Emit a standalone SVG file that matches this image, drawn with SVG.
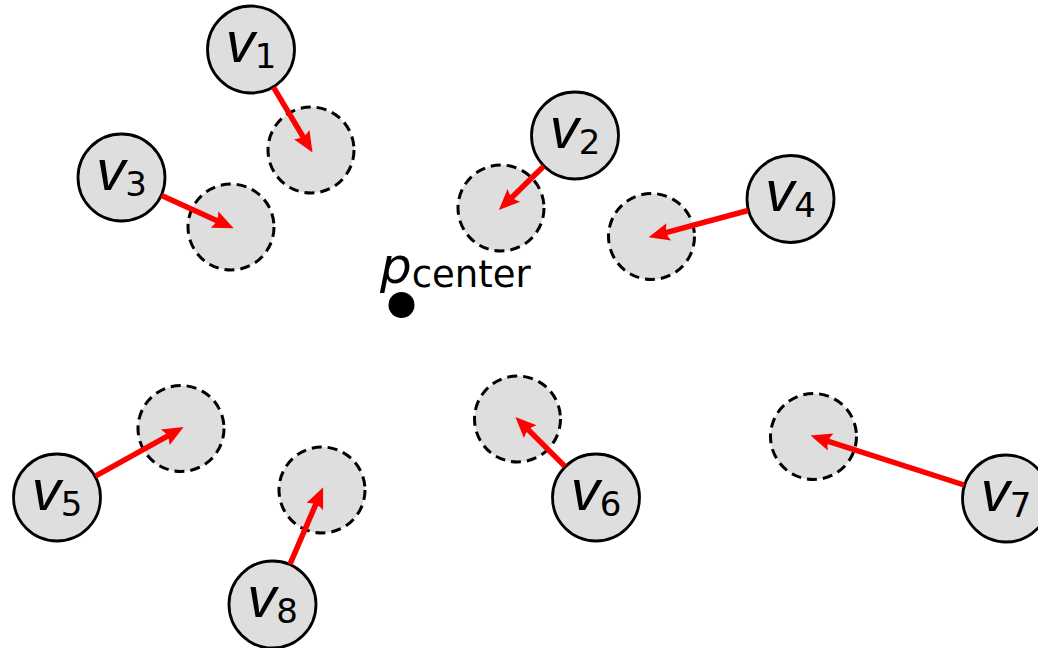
<svg xmlns="http://www.w3.org/2000/svg" width="1038" height="648" viewBox="0 0 1038 648">
  <style>
    .node { fill: #dedede; stroke: #000; stroke-width: 2.8; }
    .ghost { fill: #dedede; stroke: #000; stroke-width: 3; stroke-dasharray: 10 6; }
    .lbl { font-family: "DejaVu Sans", "Liberation Sans", sans-serif; fill: #000; text-anchor: middle; }
    .var { font-family: "Liberation Sans", "DejaVu Sans", sans-serif; font-size: 58px; font-style: italic; }
    .sub { font-size: 34px; }
    .move { stroke: #ff0000; stroke-width: 5.5; fill: none; marker-end: url(#head); }
  </style>
  <defs>
    <marker id="head" markerUnits="userSpaceOnUse" orient="auto" refX="0" refY="0" markerWidth="40" markerHeight="40" overflow="visible">
      <path d="M17,0 L-4,-9 Q1,0 -4,9 Z" fill="#ff0000"/>
    </marker>
  </defs>

  <rect width="1038" height="648" fill="#fff"/>

  <!-- target positions (dashed) -->
  <g id="targets">
    <circle class="ghost" cx="311" cy="150" r="43"/>
    <circle class="ghost" cx="231" cy="227" r="43"/>
    <circle class="ghost" cx="501" cy="208" r="43"/>
    <circle class="ghost" cx="651.5" cy="236.5" r="43"/>
    <circle class="ghost" cx="181" cy="428.5" r="43"/>
    <circle class="ghost" cx="322" cy="490" r="43"/>
    <circle class="ghost" cx="517.5" cy="419" r="43"/>
    <circle class="ghost" cx="813.5" cy="436.5" r="43"/>
  </g>

  <!-- centre point -->
  <g id="pcenter">
    <circle cx="401.5" cy="305" r="13" fill="#000"/>
    <text class="lbl" x="380" y="283" style="text-anchor: start"><tspan font-family="DejaVu Sans, sans-serif" font-style="italic" font-size="50">p</tspan><tspan font-size="37" dy="4">center</tspan></text>
  </g>

  <g id="v1"><circle class="node" cx="251" cy="49.5" r="43.5"/><text class="lbl" x="251" y="61.5"><tspan class="var">v</tspan><tspan class="sub" dy="6">1</tspan></text></g>
  <g id="v2"><circle class="node" cx="575" cy="135.5" r="43.5"/><text class="lbl" x="575" y="147.5"><tspan class="var">v</tspan><tspan class="sub" dy="6">2</tspan></text></g>
  <g id="v3"><circle class="node" cx="121.5" cy="177.5" r="43.5"/><text class="lbl" x="121.5" y="189.5"><tspan class="var">v</tspan><tspan class="sub" dy="6">3</tspan></text></g>
  <g id="v4"><circle class="node" cx="790.5" cy="199" r="43.5"/><text class="lbl" x="790.5" y="211"><tspan class="var">v</tspan><tspan class="sub" dy="6">4</tspan></text></g>
  <g id="v5"><circle class="node" cx="57" cy="497.5" r="43.5"/><text class="lbl" x="57" y="509.5"><tspan class="var">v</tspan><tspan class="sub" dy="6">5</tspan></text></g>
  <g id="v6"><circle class="node" cx="596" cy="497.5" r="43.5"/><text class="lbl" x="596" y="509.5"><tspan class="var">v</tspan><tspan class="sub" dy="6">6</tspan></text></g>
  <g id="v7"><circle class="node" cx="1006" cy="498.5" r="43.5"/><text class="lbl" x="1006" y="510.5"><tspan class="var">v</tspan><tspan class="sub" dy="6">7</tspan></text></g>
  <g id="v8"><circle class="node" cx="272.5" cy="604.5" r="43.5"/><text class="lbl" x="272.5" y="616.5"><tspan class="var">v</tspan><tspan class="sub" dy="6">8</tspan></text></g>

  <!-- displacement arrows -->
  <g id="connectors">
    <line class="move" x1="273.6" y1="87.3" x2="303.8" y2="138.0"/>
    <line class="move" x1="543.6" y1="166.3" x2="511.0" y2="198.2"/>
    <line class="move" x1="161.6" y1="195.6" x2="218.2" y2="221.2"/>
    <line class="move" x1="748.0" y1="210.5" x2="665.0" y2="232.9"/>
    <line class="move" x1="95.4" y1="476.1" x2="168.8" y2="435.3"/>
    <line class="move" x1="564.9" y1="466.4" x2="527.4" y2="428.9"/>
    <line class="move" x1="964.1" y1="485.0" x2="826.8" y2="440.8"/>
    <line class="move" x1="290.0" y1="564.1" x2="316.4" y2="502.9"/>
  </g>
</svg>
